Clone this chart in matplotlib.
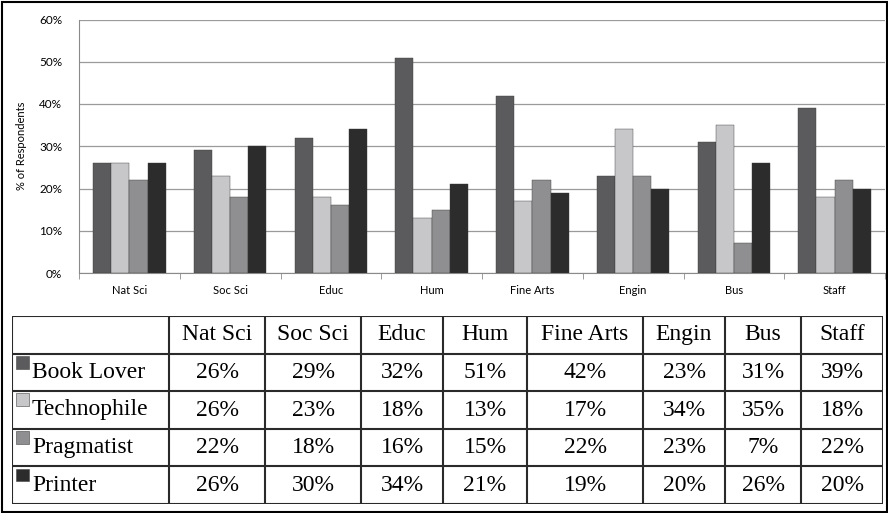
import numpy as np
import matplotlib
matplotlib.use("Agg")
import matplotlib.pyplot as plt
from matplotlib.patches import Rectangle

groups = ["Nat Sci", "Soc Sci", "Educ", "Hum", "Fine Arts", "Engin", "Bus", "Staff"]
series = ["Book Lover", "Technophile", "Pragmatist", "Printer"]
book_lover = [26, 29, 32, 51, 42, 23, 31, 39]
technophile = [26, 23, 18, 13, 17, 34, 35, 18]
pragmatist = [22, 18, 16, 15, 22, 23, 7, 22]
printer = [26, 30, 34, 21, 19, 20, 26, 20]
colors = ["#5b5b5d", "#c7c7c9", "#8f8f91", "#2c2c2c"]
values = [book_lover, technophile, pragmatist, printer]

W, H = 888, 513
fig = plt.figure(figsize=(W / 100, H / 100), dpi=100)

def frac(x0, y0, x1, y1):
    # pixel box (top-left origin) -> figure fraction
    return [x0 / W, 1 - y1 / H, (x1 - x0) / W, (y1 - y0) / H]

# outer border
fig.patches.append(Rectangle((1.5 / W, 1.5 / H), (W - 3) / W, (H - 3) / H,
                             transform=fig.transFigure, fill=False,
                             edgecolor="black", lw=1.5))

# ---- bar chart ----
ax = fig.add_axes(frac(79, 19.5, 885, 273))
x = np.arange(len(groups))
bw = 0.18
for i, (vals, c) in enumerate(zip(values, colors)):
    ax.bar(x + (i - 1.5) * bw, np.array(vals) / 100, bw, color=c,
           edgecolor="#3a3a3a", linewidth=0.3, zorder=3)

ax.set_xlim(-0.5, len(groups) - 0.5)
ax.set_ylim(0, 0.6)
yt = np.arange(0, 0.61, 0.1)
ax.set_yticks(yt)
ax.set_yticklabels([f"{int(round(v * 100))}%" for v in yt], fontsize=8.5, family="Lato")
ax.set_xticks(x)
ax.set_xticklabels(groups, fontsize=8, family="Lato")
ax.tick_params(axis="x", length=0, pad=9)
ax.tick_params(axis="y", length=0, pad=12)
ax.set_xticks(np.arange(-0.5, len(groups), 1), minor=True)
ax.tick_params(axis="x", which="minor", length=4, color="#8a8a8a", direction="out")
ax.grid(axis="y", color="#9a9a9a", lw=0.9, zorder=0)
for s in ["top", "right"]:
    ax.spines[s].set_visible(False)
ax.spines["left"].set_color("#8a8a8a")
ax.spines["bottom"].set_color("#8a8a8a")
ax.set_ylabel("% of Respondents", fontsize=8, family="Lato", labelpad=9)

# ---- data table ----
col_w = [157, 96, 96, 82, 84, 116, 82, 76, 82]
tx0, ty0, tx1, ty1 = 12, 316, 883, 504
axt = fig.add_axes(frac(tx0, ty0, tx1, ty1))
axt.set_xlim(0, sum(col_w))
nrows = len(series) + 1
axt.set_ylim(nrows, 0)
axt.axis("off")

edges = np.concatenate([[0], np.cumsum(col_w)])
line_kw = dict(color="#2a2a2a", lw=1.5, solid_capstyle="projecting")
for e in edges:
    axt.plot([e, e], [0, nrows], **line_kw)
for r in range(nrows + 1):
    axt.plot([0, edges[-1]], [r, r], **line_kw)

font = dict(family="Liberation Serif", fontsize=17, va="center")
centers = (edges[:-1] + edges[1:]) / 2
for j, g in enumerate(groups):
    axt.text(centers[j + 1], 0.5, g, ha="center", **font)
for i, (name, vals, c) in enumerate(zip(series, values, colors)):
    r = i + 1
    axt.add_patch(Rectangle((4, r + 0.06), 13, 0.34, facecolor=c,
                            edgecolor="#444444", lw=0.4))
    axt.text(20, r + 0.5, name, ha="left", **font)
    for j, v in enumerate(vals):
        axt.text(centers[j + 1], r + 0.5, f"{v}%", ha="center", **font)

fig.savefig("out.png", dpi=100)
